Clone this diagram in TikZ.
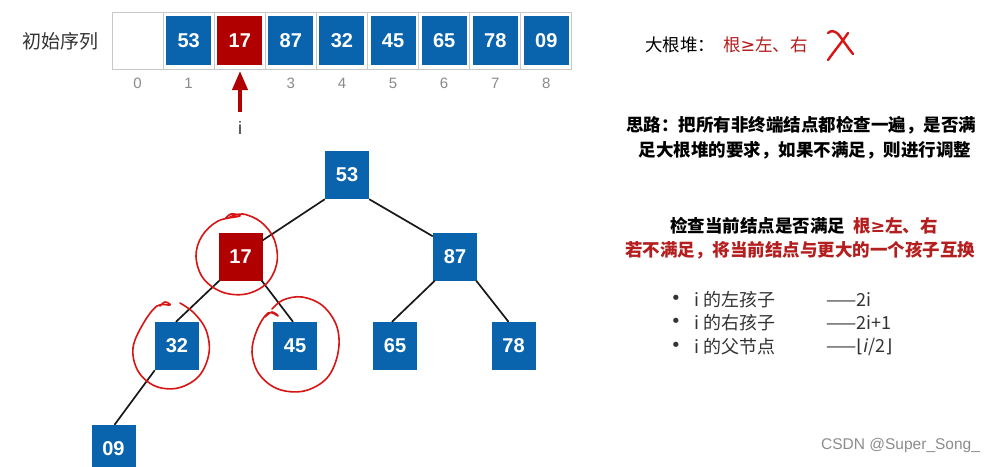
\documentclass[tikz,border=0pt]{standalone}
\usepackage{fontspec}
\usetikzlibrary{arrows.meta}
\newfontfamily\cjk{Noto Sans CJK SC}
\newfontfamily\numf{Liberation Sans}
\newfontfamily\djv{DejaVu Sans}
\definecolor{sqblue}{HTML}{0A64AD}
\definecolor{sqred}{HTML}{B00000}
\definecolor{txtred}{HTML}{B41E1E}
\definecolor{penred}{HTML}{D81414}
\definecolor{gridgray}{HTML}{C8C8C8}
\definecolor{idxgray}{HTML}{8A8A8A}
\definecolor{darktxt}{HTML}{333333}
\tikzset{
  cellbox/.style={draw=gridgray,line width=1pt,minimum width=51.1pt,minimum height=57pt,inner sep=0pt},
  arrsq/.style={fill=sqblue,text=white,minimum width=45pt,minimum height=49pt,inner sep=0pt,font=\numf\bfseries\fontsize{20}{24}\selectfont},
  treesq/.style={fill=sqblue,text=white,minimum width=44pt,minimum height=48pt,inner sep=0pt,font=\numf\bfseries\fontsize{20}{24}\selectfont},
  redsq/.style={fill=sqred},
  idxlbl/.style={text=idxgray,inner sep=0pt,font=\numf\fontsize{15}{17}\selectfont},
  edge/.style={line width=1.7pt,draw=black!90},
  penline/.style={draw=penred,line width=1.6pt,line cap=round,line join=round},
  cjktxt/.style={inner sep=0pt,font=\cjk\fontsize{17.5}{21}\selectfont},
  boldtxt/.style={inner sep=0pt,font=\cjk\bfseries\fontsize{17.5}{21}\selectfont},
  listtxt/.style={inner sep=0pt,anchor=west,text=darktxt,font=\cjk\fontsize{18}{21}\selectfont},
}
\begin{document}
\begin{tikzpicture}[x=1pt,y=-1pt]
\useasboundingbox (0,0) rectangle (998,466);
\fill[white] (0,0) rectangle (998,466);
% label
\node[cjktxt,text=darktxt,font=\cjk\fontsize{19}{22}\selectfont] (seqlbl) at (61,41) {初始序列};
% array cells
\foreach \k in {0,...,8}{
  \node[cellbox] (c\k) at ({112+51.1*(\k+0.5)},40.5) {};
}
\node[arrsq] (a1) at (c1) {53};
\node[arrsq,redsq] (a2) at (c2) {17};
\node[arrsq] (a3) at (c3) {87};
\node[arrsq] (a4) at (c4) {32};
\node[arrsq] (a5) at (c5) {45};
\node[arrsq] (a6) at (c6) {65};
\node[arrsq] (a7) at (c7) {78};
\node[arrsq] (a8) at (c8) {09};
% indices
\foreach \k in {0,1,3,4,5,6,7,8}{
  \node[idxlbl] (i\k) at ({112+51.1*(\k+0.5)},83) {\k};
}
% arrow i
\node[inner sep=0pt,text=darktxt,font=\numf\fontsize{18}{20}\selectfont] (ilbl) at (240,128) {i};
\coordinate (atail) at (240,112);
\coordinate (atip) at (240,71);
\draw[draw=sqred,line width=4pt,-{Triangle[width=15pt,length=19pt]}] (atail) -- (atip);
% tree
\node[treesq] (t53) at (347,175) {53};
\node[treesq,redsq] (t17) at (240.5,256.5) {17};
\node[treesq] (t87) at (455,256.5) {87};
\node[treesq] (t32) at (177,346) {32};
\node[treesq] (t45) at (295,346) {45};
\node[treesq] (t65) at (395,346) {65};
\node[treesq] (t78) at (513.5,346) {78};
\node[treesq] (t09) at (113.5,449) {09};
\draw[edge] (t53.south west) -- ([yshift=-8pt]t17.north east);
\draw[edge] (t53.south east) -- ([yshift=-4pt]t87.north west);
\draw[edge] ([xshift=1pt]t17.south west) -- ([xshift=-1pt]t32.north);
\draw[edge] ([xshift=-1pt]t17.south east) -- ([xshift=-2pt]t45.north);
\draw[edge] ([xshift=2pt]t87.south west) -- ([xshift=-3pt]t65.north);
\draw[edge] ([xshift=-1pt]t87.south east) -- ([xshift=-5pt]t78.north);
\draw[edge] (t32.south west) -- ([xshift=1pt]t09.north);
% red pen circles
\draw[penline] plot[smooth,tension=0.6] coordinates {(225,219) (231,214) (240,216) (218,221) (202,236) (196,256) (203,278) (222,292) (246,294) (267,283) (277,262) (274,239) (261,222) (243,214) (230,217)};
\draw[penline] plot[smooth,tension=0.6] coordinates {(160,306) (165,302) (170,305) (157,306) (143,324) (133,348) (138,371) (155,386) (178,388) (199,376) (209,353) (206,330) (194,313) (180,303)};
\draw[penline] plot[smooth,tension=0.6] coordinates {(265,317) (272,312) (278,316) (268,313) (257,330) (252,352) (259,374) (278,389) (304,391) (327,378) (338,353) (337,327) (323,306) (302,297) (283,300) (272,309)};
% top right
\node[cjktxt,anchor=west,text=black] (dgd) at (645,45) {大根堆：};
\node[cjktxt,anchor=west,text=txtred] (dgdr) at (723,45) {根\djv ≥\cjk 左、右};
\draw[penline,line width=2.4pt] (828,33) .. controls (831,30) and (835,31) .. (838,34) .. controls (843,40) and (848,48) .. (853,54);
\draw[penline,line width=2.4pt] (848,33) .. controls (842,42) and (835,50) .. (828,60);
% explanation
\node[boldtxt,text=black] (sl1) at (801,125) {思路：把所有非终端结点都检查一遍，是否满};
\node[boldtxt,text=black] (sl2) at (805,150) {足大根堆的要求，如果不满足，则进行调整};
\node[boldtxt,anchor=west,text=black] (ck1) at (670,226) {检查当前结点是否满足};
\node[boldtxt,anchor=west,text=txtred] (ck2) at (853,226) {根\djv\bfseries ≥\cjk 左、右};
\node[boldtxt,text=txtred] (ck3) at (800,250) {若不满足，将当前结点与更大的一个孩子互换};
% bullets
\foreach \yy/\nm/\lt/\rt in {300/b1/{i 的左孩子}/{——2i},323/b2/{i 的右孩子}/{——2i+1},347/b3/{i 的父节点}/{——{\djv ⌊}{\djv\itshape i}/2{\djv ⌋}}}{
  \node[inner sep=0pt,text=darktxt,font=\djv\fontsize{18}{20}\selectfont] (\nm dot) at (676,\yy) {•};
  \node[listtxt] (\nm l) at (694,\yy) {\lt};
  \node[listtxt] (\nm r) at (826,\yy) {\rt};
}
% watermark
\node[inner sep=0pt,anchor=west,text=black!45,font=\numf\fontsize{15.5}{18}\selectfont] (wm) at (821,445) {CSDN @Super\_Song\_};
\end{tikzpicture}
\end{document}
